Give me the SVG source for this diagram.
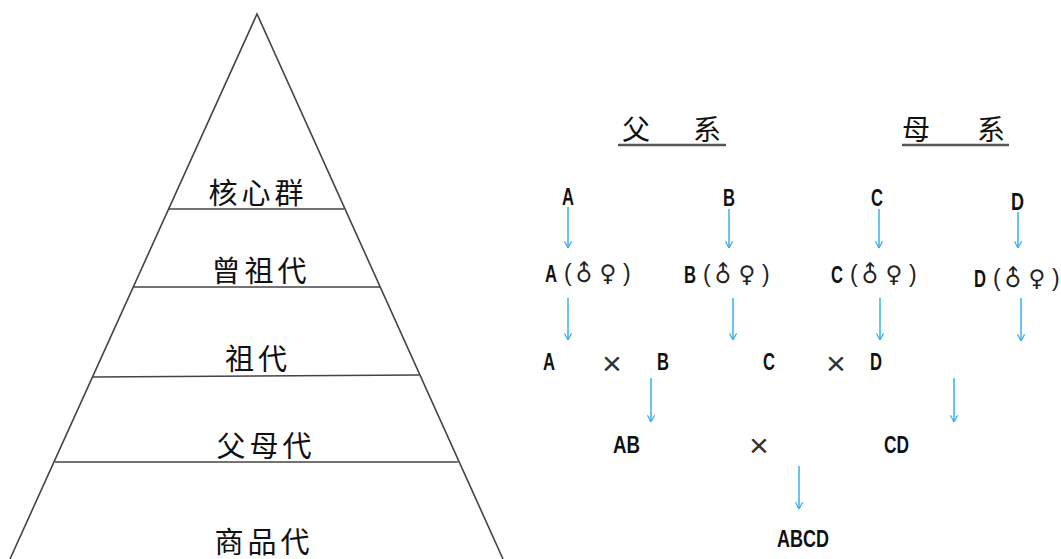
<svg xmlns="http://www.w3.org/2000/svg" width="1061" height="559" viewBox="0 0 1061 559">
<style>
.cjk{font-family:"Noto Sans CJK SC","Noto Sans CJK JP",sans-serif;fill:#111;}
.lvl{font-size:29px;letter-spacing:4px;text-anchor:middle;}
.ttl{font-size:28px;}
.let{font-family:"Liberation Sans",Arial,sans-serif;font-weight:bold;font-size:24px;fill:#111;}
.par{font-family:"Liberation Sans",Arial,sans-serif;font-size:23px;fill:#222;}
.sym{font-family:"DejaVu Sans",sans-serif;font-size:23px;fill:#222;text-anchor:middle;}
.x{font-family:"Liberation Sans",Arial,sans-serif;font-size:34px;fill:#333;text-anchor:middle;}
.pl{stroke:#444;stroke-width:1.6;fill:none;}
.arr{stroke:#3ab0e8;stroke-width:1.5;fill:none;marker-end:url(#ah);}
</style>
<defs>
<marker id="ah" viewBox="0 0 10 10" refX="9.5" refY="5" markerWidth="8" markerHeight="9" markerUnits="userSpaceOnUse" orient="auto">
<path d="M1,0.5 L9.5,5 L1,9.5" stroke="#3ab0e8" stroke-width="1.6" fill="none"/>
</marker>
</defs>
<rect width="1061" height="559" fill="#fff"/>

<g id="pyramid">
<path class="pl" d="M10,559 L257,14 L503,559"/>
<line class="pl" x1="169" y1="209" x2="344" y2="209"/>
<line class="pl" x1="133" y1="287" x2="380" y2="287"/>
<line class="pl" x1="93" y1="377" x2="419" y2="375"/>
<line class="pl" x1="55" y1="462" x2="458" y2="462"/>
</g>
<g id="level-core"><text class="cjk lvl" x="258" y="204">核心群</text></g>
<g id="level-great-grand"><text class="cjk lvl" x="261" y="282">曾祖代</text></g>
<g id="level-grand"><text class="cjk lvl" x="258" y="370">祖代</text></g>
<g id="level-parent"><text class="cjk lvl" x="266" y="457">父母代</text></g>
<g id="level-commercial"><text class="cjk lvl" x="264" y="553">商品代</text></g>

<g id="title-father">
<text class="cjk ttl" x="622" y="140">父</text>
<text class="cjk ttl" x="693" y="140">系</text>
<line x1="618" y1="145" x2="726" y2="145" stroke="#555" stroke-width="2.5"/>
</g>
<g id="title-mother">
<text class="cjk ttl" x="902" y="140">母</text>
<text class="cjk ttl" x="977" y="140">系</text>
<line x1="902" y1="145" x2="1009" y2="145" stroke="#555" stroke-width="2.5"/>
</g>

<g id="node-A"><text class="let" x="562" y="205" textLength="12" lengthAdjust="spacingAndGlyphs">A</text></g>
<g id="node-B"><text class="let" x="723" y="206" textLength="12" lengthAdjust="spacingAndGlyphs">B</text></g>
<g id="node-C"><text class="let" x="871" y="206" textLength="12" lengthAdjust="spacingAndGlyphs">C</text></g>
<g id="node-D"><text class="let" x="1011" y="210" textLength="13" lengthAdjust="spacingAndGlyphs">D</text></g>

<g id="node-A2" transform="translate(545,282)">
<text class="let" x="0" y="0" textLength="12" lengthAdjust="spacingAndGlyphs">A</text>
<text class="par" x="19" y="-1">(</text>
<text class="sym" x="0" y="0" transform="translate(39,-1) rotate(-45 0 -8)">♂</text>
<text class="sym" x="63" y="-1">♀</text>
<text class="par" x="78" y="-1">)</text>
</g>
<g id="node-B2" transform="translate(684,283)">
<text class="let" x="0" y="0" textLength="12" lengthAdjust="spacingAndGlyphs">B</text>
<text class="par" x="19" y="-1">(</text>
<text class="sym" x="0" y="0" transform="translate(39,-1) rotate(-45 0 -8)">♂</text>
<text class="sym" x="63" y="-1">♀</text>
<text class="par" x="78" y="-1">)</text>
</g>
<g id="node-C2" transform="translate(831,283)">
<text class="let" x="0" y="0" textLength="12" lengthAdjust="spacingAndGlyphs">C</text>
<text class="par" x="19" y="-1">(</text>
<text class="sym" x="0" y="0" transform="translate(39,-1) rotate(-45 0 -8)">♂</text>
<text class="sym" x="63" y="-1">♀</text>
<text class="par" x="78" y="-1">)</text>
</g>
<g id="node-D2" transform="translate(974,287)">
<text class="let" x="0" y="0" textLength="12" lengthAdjust="spacingAndGlyphs">D</text>
<text class="par" x="19" y="-1">(</text>
<text class="sym" x="0" y="0" transform="translate(39,-1) rotate(-45 0 -8)">♂</text>
<text class="sym" x="63" y="-1">♀</text>
<text class="par" x="78" y="-1">)</text>
</g>

<g id="node-AxB">
<text class="let" x="543" y="370" textLength="12" lengthAdjust="spacingAndGlyphs">A</text>
<text class="x" x="612" y="375">×</text>
<text class="let" x="657" y="370" textLength="12" lengthAdjust="spacingAndGlyphs">B</text>
</g>
<g id="node-CxD">
<text class="let" x="763" y="370" textLength="12" lengthAdjust="spacingAndGlyphs">C</text>
<text class="x" x="836" y="375">×</text>
<text class="let" x="870" y="370" textLength="12" lengthAdjust="spacingAndGlyphs">D</text>
</g>
<g id="node-ABxCD">
<text class="let" x="613" y="453" textLength="27" lengthAdjust="spacingAndGlyphs">AB</text>
<text class="x" x="759" y="457">×</text>
<text class="let" x="884" y="453" textLength="25" lengthAdjust="spacingAndGlyphs">CD</text>
</g>
<g id="node-ABCD"><text class="let" x="777" y="547" textLength="52" lengthAdjust="spacingAndGlyphs">ABCD</text></g>

<g id="connectors">
<line class="arr" x1="568" y1="207" x2="568" y2="248"/>
<line class="arr" x1="729" y1="209" x2="729" y2="248"/>
<line class="arr" x1="879" y1="209" x2="879" y2="248"/>
<line class="arr" x1="1018" y1="212" x2="1018" y2="248"/>
<line class="arr" x1="568" y1="298" x2="568" y2="340"/>
<line class="arr" x1="733" y1="298" x2="733" y2="340"/>
<line class="arr" x1="880" y1="298" x2="880" y2="340"/>
<line class="arr" x1="1021" y1="298" x2="1021" y2="341"/>
<line class="arr" x1="651" y1="378" x2="651" y2="422"/>
<line class="arr" x1="954" y1="378" x2="954" y2="422"/>
<line class="arr" x1="799" y1="466" x2="799" y2="509"/>
</g>
</svg>
